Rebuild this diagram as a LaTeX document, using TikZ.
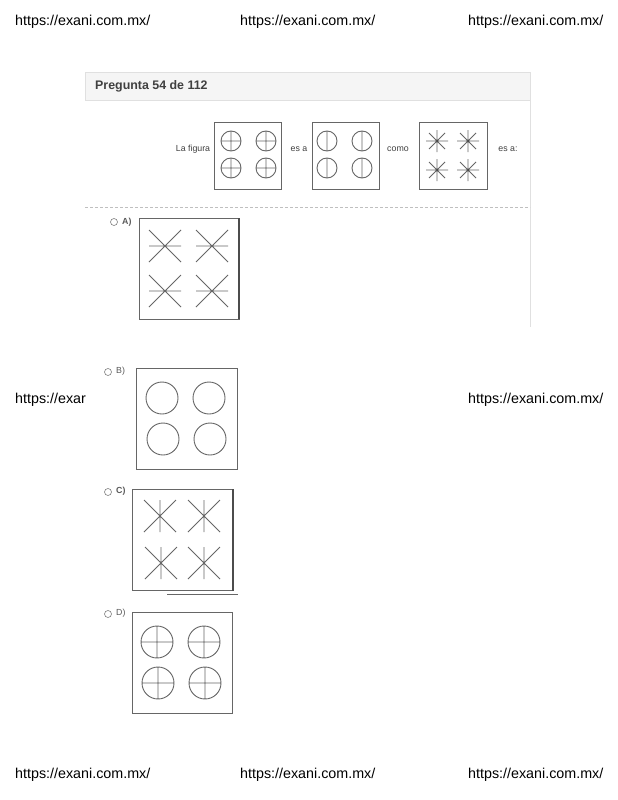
\documentclass[tikz,border=0pt]{standalone}
\usepackage{fontspec}
\setmainfont{Liberation Sans}
\usepackage{xcolor}
\usepackage{tikz}

\tikzset{
  wmark/.style={anchor=west, inner sep=0pt, font=\fontsize{14.3}{17}\selectfont},
  qtext/.style={text=black!75, font=\fontsize{8.8}{10}\selectfont},
  optlabel/.style={anchor=west, inner sep=0pt, text=black!65, font=\fontsize{8.8}{10}\selectfont},
  figbox/.style={draw=black!60, line width=0.8pt},
  symb/.style={draw=black!60, line width=0.9pt},
  radio/.style={draw=black!50, line width=0.6pt}
}

\begin{document}
\begin{tikzpicture}[x=1pt, y=-1pt]
\useasboundingbox (0,0) rectangle (618,800);
\fill[white] (0,0) rectangle (618,800);

% Marcas de agua
\node[wmark] (wmtl) at (15,22) {https://exani.com.mx/};
\node[wmark] (wmtc) at (240,22) {https://exani.com.mx/};
\node[wmark] (wmtr) at (468,22) {https://exani.com.mx/};
\node[wmark] (wmml) at (15,400) {https://exar};
\node[wmark] (wmmr) at (468,400) {https://exani.com.mx/};
\node[wmark] (wmbl) at (15,775) {https://exani.com.mx/};
\node[wmark] (wmbc) at (240,775) {https://exani.com.mx/};
\node[wmark] (wmbr) at (468,775) {https://exani.com.mx/};

% Encabezado
\draw[fill=black!4, draw=black!12] (85,72) rectangle (530,100);
\node[anchor=west, inner sep=0pt, text=black!75, font=\bfseries\fontsize{12.4}{15}\selectfont] (titulo) at (95,86) {Pregunta 54 de 112};
\draw[black!12, line width=1pt] (530,100) -- (530,327);
\draw[black!25, dash pattern=on 3pt off 2pt] (85,207) -- (530,207);

% Enunciado
\node[qtext] (lafigura) at (193,149) {La figura};
\node[qtext] (esa) at (299,149) {es a};
\node[qtext] (como) at (398,149) {como};
\node[qtext] (esados) at (508,149) {es a:};

% Figura 1: circulos con cruz
\draw[figbox] (214,122) rectangle (281,189);
\draw[symb] (231,141) circle (10pt) (221,141) -- (241,141) (231,131) -- (231,151);
\draw[symb] (266,141) circle (10pt) (256,141) -- (276,141) (266,131) -- (266,151);
\draw[symb] (231,168) circle (10pt) (221,168) -- (241,168) (231,158) -- (231,178);
\draw[symb] (266,168) circle (10pt) (256,168) -- (276,168) (266,158) -- (266,178);

% Figura 2: circulos con linea vertical
\draw[figbox] (312,122) rectangle (379,189);
\draw[symb] (327,141) circle (10pt) (327,131) -- (327,151);
\draw[symb] (362,141) circle (10pt) (362,131) -- (362,151);
\draw[symb] (327,168) circle (10pt) (327,158) -- (327,178);
\draw[symb] (362,168) circle (10pt) (362,158) -- (362,178);

% Figura 3: asteriscos
\draw[figbox] (419,122) rectangle (487,189);
\draw[symb] (426,141) -- (448,141) (437,130) -- (437,152) (429,133) -- (445,149) (429,149) -- (445,133);
\draw[symb] (457,141) -- (479,141) (468,130) -- (468,152) (460,133) -- (476,149) (460,149) -- (476,133);
\draw[symb] (426,170) -- (448,170) (437,159) -- (437,181) (429,162) -- (445,178) (429,178) -- (445,162);
\draw[symb] (457,170) -- (479,170) (468,159) -- (468,181) (460,162) -- (476,178) (460,178) -- (476,162);
\fill[black!75] (437,141) circle (1pt) (468,141) circle (1pt) (437,170) circle (1pt) (468,170) circle (1pt);

% Opcion A
\draw[radio] (114,222) circle (3.5pt);
\node[optlabel, font=\bfseries\fontsize{8.8}{10}\selectfont] (opca) at (122,222) {A)};
\draw[figbox] (139,218) rectangle (239,319);
\draw[black!70, line width=1.5pt] (239,218) -- (239,319);
\draw[symb] (149,230) -- (181,262) (149,262) -- (181,230) (149,246) -- (181,246);
\draw[symb] (196,230) -- (228,262) (196,262) -- (228,230) (196,246) -- (228,246);
\draw[symb] (149,275) -- (181,307) (149,307) -- (181,275) (149,291) -- (181,291);
\draw[symb] (196,275) -- (228,307) (196,307) -- (228,275) (196,291) -- (228,291);

% Opcion B
\draw[radio] (108,372) circle (3.5pt);
\node[optlabel] (opcb) at (116,371) {B)};
\draw[figbox] (136,368) rectangle (237,469);
\draw[symb] (162,398) circle (16pt) (209,398) circle (16pt);
\draw[symb] (163,439) circle (16pt) (210,439) circle (16pt);

% Opcion C
\draw[radio] (108,492) circle (3.5pt);
\node[optlabel, font=\bfseries\fontsize{8.8}{10}\selectfont] (opcc) at (116,491) {C)};
\draw[figbox] (132,489) rectangle (233,590);
\draw[black!70, line width=1.5pt] (233,489) -- (233,591);
\draw[black!60, line width=1pt] (167,594) -- (238,594);
\draw[symb] (144,500) -- (176,532) (144,532) -- (176,500) (160,500) -- (160,532);
\draw[symb] (188,500) -- (220,532) (188,532) -- (220,500) (204,500) -- (204,532);
\draw[symb] (145,547) -- (177,579) (145,579) -- (177,547) (161,547) -- (161,579);
\draw[symb] (188,547) -- (220,579) (188,579) -- (220,547) (204,547) -- (204,579);

% Opcion D
\draw[radio] (108,614) circle (3.5pt);
\node[optlabel] (opcd) at (116,613) {D)};
\draw[figbox] (132,612) rectangle (232,713);
\draw[symb] (157,642) circle (16pt) (141,642) -- (173,642) (157,626) -- (157,658);
\draw[symb] (204,642) circle (16pt) (188,642) -- (220,642) (204,626) -- (204,658);
\draw[symb] (158,683) circle (16pt) (142,683) -- (174,683) (158,667) -- (158,699);
\draw[symb] (205,683) circle (16pt) (189,683) -- (221,683) (205,667) -- (205,699);

\end{tikzpicture}
\end{document}
